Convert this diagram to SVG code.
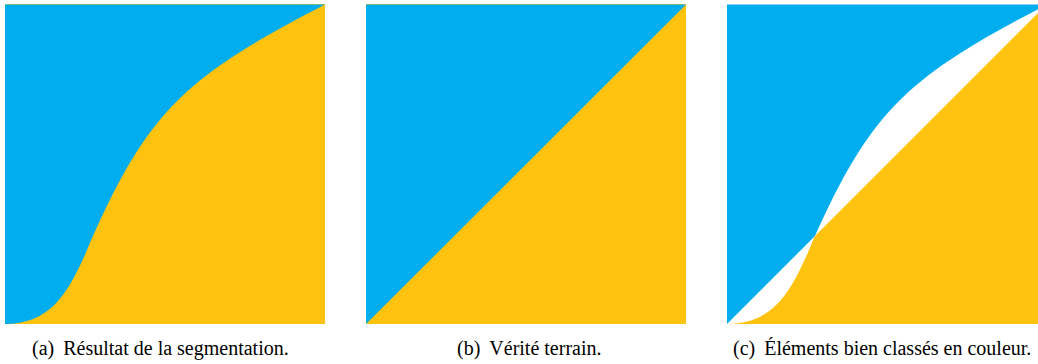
<svg xmlns="http://www.w3.org/2000/svg" xmlns:xlink="http://www.w3.org/1999/xlink" width="1038" height="364" viewBox="0 0 1038 364">
  <style>
    .blue { fill: #00AEEF; }
    .yellow { fill: #FFC20E; }
    .cap { font-family: "Liberation Serif", "Times New Roman", serif; font-size: 20px; fill: #000; }
  </style>
  <defs>
    <path id="seg-blue" d="M5,324 C50,324 68,294 87,250 C147,112 182.6,78.1 325,4.5 L5,4.5 Z"/>
    <path id="seg-yellow" d="M5,324 C50,324 68,294 87,250 C147,112 182.6,78.1 325,4.5 L325,324 Z"/>
    <clipPath id="gt-blue" clipPathUnits="userSpaceOnUse">
      <polygon points="5,4 325,4 5,324"/>
    </clipPath>
    <clipPath id="gt-yellow" clipPathUnits="userSpaceOnUse">
      <polygon points="5,324 325,4 325,324"/>
    </clipPath>
  </defs>

  <g id="panel-a">
    <rect class="yellow" x="5" y="4" width="320" height="320"/>
    <use xlink:href="#seg-blue" class="blue"/>
  </g>

  <g id="panel-b">
    <rect class="yellow" x="366" y="4" width="320" height="320"/>
    <polygon class="blue" points="366,4.5 686,4.5 366,324"/>
  </g>

  <g id="panel-c" transform="translate(722,0)">
    <use xlink:href="#seg-blue" class="blue" clip-path="url(#gt-blue)"/>
    <use xlink:href="#seg-yellow" class="yellow" clip-path="url(#gt-yellow)"/>
  </g>

  <g id="captions">
    <text class="cap" x="32" y="355">(a)<tspan dx="9">Résultat de la segmentation.</tspan></text>
    <text class="cap" x="457" y="355">(b)<tspan dx="9">Vérité terrain.</tspan></text>
    <text class="cap" x="733" y="355">(c)<tspan dx="9">Éléments bien classés en couleur.</tspan></text>
  </g>
</svg>
